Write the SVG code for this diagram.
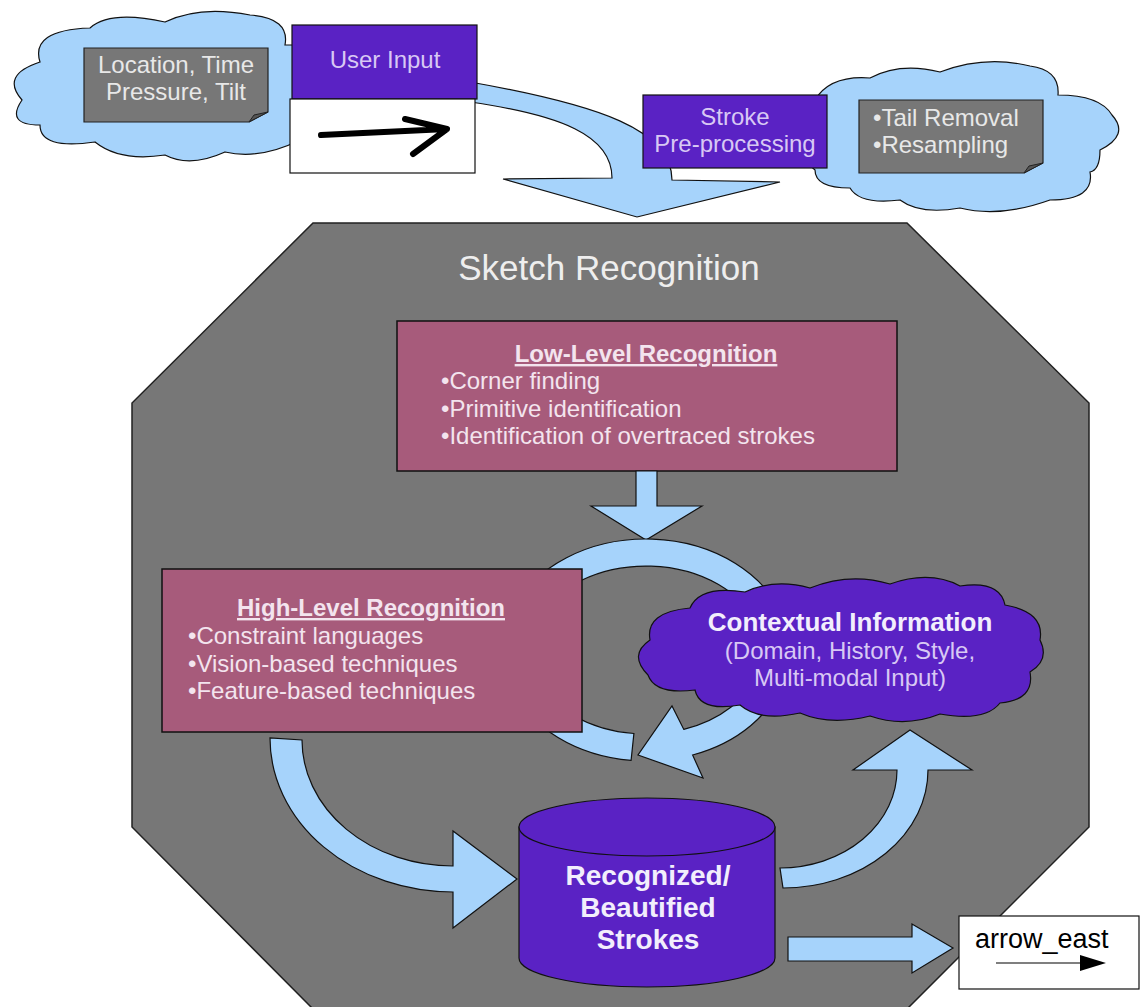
<svg xmlns="http://www.w3.org/2000/svg" width="1140" height="1007" viewBox="0 0 1140 1007">
<style>
.t{font-family:"Liberation Sans",Arial,sans-serif}
.cloud{fill:#a6d3fb;stroke:#111;stroke-width:1.2}
.blue{fill:#a6d3fb;stroke:#111;stroke-width:1.2;stroke-linejoin:miter}
.purple{fill:#5a22c4;stroke:#111;stroke-width:1.2}
.mauve{fill:#a75b7b;stroke:#111;stroke-width:1.5}
.note{fill:#777;stroke:#222;stroke-width:1.2}
.fold{fill:#555;stroke:#222;stroke-width:1}
.lav{fill:#d8c8f4;font-size:24px}
.gtx{fill:#e8e8e8;font-size:24px}
.mtx{fill:#f3e4ee;font-size:24px}
.mtb{fill:#f3e4ee;font-size:24px;font-weight:bold;text-decoration:underline}
</style>
<rect width="1140" height="1007" fill="#fff"/>

<g id="context-cloud-left">
<path class="cloud" d="M22,100 Q0,75 40,62 Q30,30 90,28 Q110,10 165,22 Q200,5 250,15 Q290,18 285,45 L300,45 L300,140 Q260,160 225,152 Q190,168 165,155 Q120,162 95,142 Q40,150 40,125 Q5,125 22,100 Z"/>
</g>
<g id="note-location">
<path class="note" d="M84,48 H268 V112 L249,122 H84 Z"/>
<path class="fold" d="M249,122 L254,115 L268,112 Z"/>
<text class="t gtx" x="176" y="73" text-anchor="middle">Location, Time</text>
<text class="t gtx" x="176" y="100" text-anchor="middle">Pressure, Tilt</text>
</g>

<g id="connectors-top">
<path class="blue" d="M470,82 C600,105 672,130 672,180 L780,182 L637,217 L503,179 L612,178 C612,135 560,115 470,102 Z"/>
</g>

<g id="user-input">
<rect class="purple" x="292" y="25" width="185" height="74"/>
<text class="t lav" x="385" y="68" text-anchor="middle">User Input</text>
<rect x="290" y="99" width="185" height="74" fill="#fff" stroke="#111" stroke-width="1.2"/>
<path d="M321,135 L447,129 M405,119 L447,129 L413,154" fill="none" stroke="#000" stroke-width="6" stroke-linecap="round" stroke-linejoin="round"/>
</g>

<g id="context-cloud-right">
<path class="cloud" d="M815,170 Q790,150 815,100 Q830,75 870,78 Q900,62 940,72 Q985,55 1030,66 Q1060,70 1058,95 Q1100,95 1112,115 Q1130,135 1100,150 Q1100,170 1090,172 Q1095,200 1050,200 Q1000,218 960,208 Q920,215 900,200 Q860,205 850,188 Q815,188 815,170 Z"/>
</g>
<g id="stroke-preprocessing">
<rect class="purple" x="643" y="95" width="184" height="73"/>
<text class="t lav" x="735" y="125" text-anchor="middle">Stroke</text>
<text class="t lav" x="735" y="152" text-anchor="middle">Pre-processing</text>
</g>
<g id="note-preprocessing">
<path class="note" d="M859,100 H1043 V163 L1024,173 H859 Z"/>
<path class="fold" d="M1024,173 L1029,166 L1043,163 Z"/>
<text class="t gtx" x="873" y="126">•Tail Removal</text>
<text class="t gtx" x="873" y="153">•Resampling</text>
</g>

<g id="sketch-recognition">
<path d="M313,223 L907,223 L1089,403 L1089,827 L907,1009 L313,1009 L132,827 L132,403 Z" fill="#777" stroke="#222" stroke-width="1.5"/>
<text class="t" x="609" y="280" text-anchor="middle" font-size="35" fill="#eee">Sketch Recognition</text>
</g>

<g id="low-level">
<rect class="mauve" x="397" y="321" width="500" height="150"/>
<text class="t mtb" x="646" y="362" text-anchor="middle">Low-Level Recognition</text>
<text class="t mtx" x="441" y="389">•Corner finding</text>
<text class="t mtx" x="441" y="417">•Primitive identification</text>
<text class="t mtx" x="441" y="444">•Identification of overtraced strokes</text>
</g>

<g id="connectors">
<path class="blue" d="M636,471 L657,471 L657,506 L702,506 L646,540 L591,506 L636,506 Z"/>
<path class="blue" d="M511.6,612 A143,111 0 0,1 784.1,621.3 L758,628.3 A116,84 0 0,0 537,621.3 Z"/>
<path class="blue" d="M784.1,678.7 A143,111 0 0,1 692.6,755 L703,778 L638,755 L672,706 L683.8,729.4 A116,84 0 0,0 758,671.7 Z"/>
<path class="blue" d="M631.1,760.4 A143,111 0 0,1 511.6,688 L537,678.7 A116,84 0 0,0 633.9,733.5 Z"/>
</g>

<g id="high-level">
<rect class="mauve" x="162" y="569" width="420" height="163"/>
<text class="t mtb" x="371" y="616" text-anchor="middle">High-Level Recognition</text>
<text class="t mtx" x="188" y="644">•Constraint languages</text>
<text class="t mtx" x="188" y="672">•Vision-based techniques</text>
<text class="t mtx" x="188" y="699">•Feature-based techniques</text>
</g>

<g id="contextual-information">
<path class="purple" d="M648,675 Q628,655 650,640 Q645,612 690,608 Q700,585 745,592 Q775,578 810,588 Q850,572 890,584 Q930,570 960,586 Q1000,580 1005,605 Q1045,612 1040,640 Q1050,660 1030,672 Q1035,700 1000,703 Q985,722 940,714 Q905,728 870,716 Q830,726 800,713 Q760,722 740,705 Q700,712 695,690 Q655,695 648,675 Z"/>
<text class="t" x="850" y="631" text-anchor="middle" font-size="26" font-weight="bold" fill="#f2eefc">Contextual Information</text>
<text class="t lav" x="850" y="659" text-anchor="middle">(Domain, History, Style,</text>
<text class="t lav" x="850" y="686" text-anchor="middle">Multi-modal Input)</text>
</g>

<g id="connectors-bottom">
<path class="blue" d="M270,738 A183,154 0 0,0 453,892 L453,928 L517,879 L453,831 L453,866 A151,126 0 0,1 302,740 Z"/>
<path class="blue" d="M783,888 A145,118 0 0,0 928,770 L972,770 L910,730 L853,770 L897,770 A117,98 0 0,1 780,868 Z"/>
<path class="blue" d="M788,937 L912,937 L912,924 L953,948 L912,973 L912,961 L788,961 Z"/>
</g>

<g id="recognized-strokes">
<path class="purple" d="M519,827 V958 A128,29 0 0,0 775,958 V827 Z"/>
<ellipse class="purple" cx="647" cy="827" rx="128" ry="29"/>
<text class="t" x="648" y="885" text-anchor="middle" font-size="28" font-weight="bold" fill="#f2eefc">Recognized/</text>
<text class="t" x="648" y="917" text-anchor="middle" font-size="28" font-weight="bold" fill="#f2eefc">Beautified</text>
<text class="t" x="648" y="949" text-anchor="middle" font-size="28" font-weight="bold" fill="#f2eefc">Strokes</text>
</g>

<g id="arrow-east">
<rect x="959" y="916" width="180" height="73" fill="#fff" stroke="#111" stroke-width="1.2"/>
<text class="t" x="975" y="948" font-size="27" fill="#000">arrow_east</text>
<line x1="996" y1="963" x2="1082" y2="963" stroke="#000" stroke-width="1.2"/>
<path d="M1080,955 L1106,963 L1080,971 Z" fill="#000"/>
</g>
</svg>
